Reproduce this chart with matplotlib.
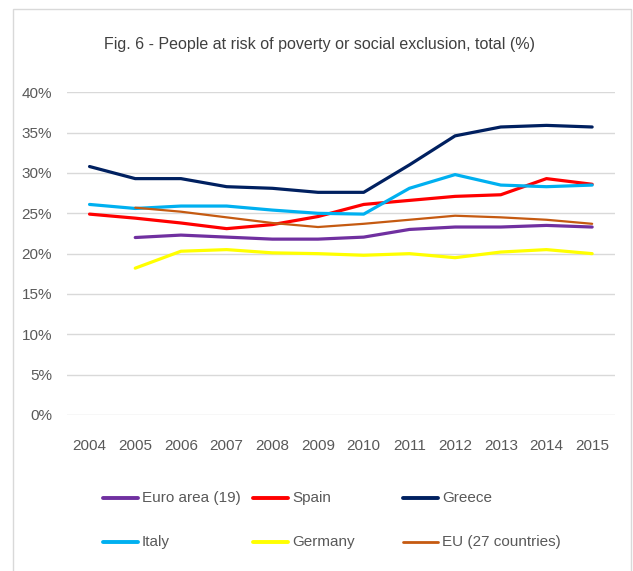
import matplotlib
matplotlib.use("Agg")
import matplotlib.pyplot as plt
from matplotlib.lines import Line2D
from matplotlib.patches import Rectangle
from matplotlib.ticker import FuncFormatter

plt.rcParams['font.family'] = ['Liberation Sans', 'DejaVu Sans']

years = ['2004', '2005', '2006', '2007', '2008', '2009', '2010', '2011', '2012', '2013', '2014', '2015']
nan = float('nan')
euro_area = [nan, 22.0, 22.3, 22.05, 21.8, 21.8, 22.05, 23.0, 23.3, 23.3, 23.5, 23.3]
spain = [24.9, 24.4, 23.8, 23.1, 23.6, 24.6, 26.1, 26.6, 27.1, 27.3, 29.3, 28.6]
greece = [30.8, 29.3, 29.3, 28.3, 28.1, 27.6, 27.6, 31.0, 34.6, 35.7, 35.9, 35.7]
italy = [26.1, 25.6, 25.9, 25.9, 25.4, 25.0, 24.9, 28.1, 29.8, 28.5, 28.3, 28.5]
germany = [nan, 18.2, 20.3, 20.5, 20.1, 20.0, 19.8, 20.0, 19.5, 20.2, 20.5, 20.0]
eu27 = [nan, 25.7, 25.2, 24.5, 23.8, 23.3, 23.7, 24.2, 24.7, 24.5, 24.2, 23.7]

names = ['Euro area (19)', 'Spain', 'Greece', 'Italy', 'Germany', 'EU (27 countries)']
series = [euro_area, spain, greece, italy, germany, eu27]
colors = ['#7030A0', '#FF0000', '#002060', '#00B0F0', '#FFFF00', '#C55A11']
widths = [2.3, 2.3, 2.3, 2.3, 2.3, 1.6]

W, H = 633, 571
fig = plt.figure(figsize=(W / 100, H / 100), dpi=100)
ax = fig.add_axes([66.7 / W, 1 - 415 / H, (615 - 66.7) / W, (415 - 92.3) / H])

x = list(range(len(years)))
for vals, c, lw in zip(series, colors, widths):
    ax.plot(x, [v / 100 for v in vals], color=c, lw=lw, solid_capstyle='round', solid_joinstyle='round', zorder=3)

ax.set_xlim(-0.5, len(years) - 0.5)
ax.set_ylim(0, 0.40)
ax.set_yticks([i * 0.05 for i in range(9)])
ax.yaxis.set_major_formatter(FuncFormatter(lambda v, p: f"{round(v * 100)}%"))
ax.set_xticks(x)
ax.set_xticklabels(years)
ax.grid(axis='y', color='#D9D9D9', lw=1.0, zorder=0)
for s in ax.spines.values():
    s.set_visible(False)
ax.tick_params(axis='both', length=0, labelsize=11, labelcolor='#595959')
ax.tick_params(axis='y', pad=10.5)
ax.tick_params(axis='x', pad=17)

fig.text(319 / W, 1 - 45 / H, 'Fig. 6 - People at risk of poverty or social exclusion, total (%)',
         ha='center', va='center', fontsize=11.5, color='#404040')

# border
fig.patches.append(Rectangle((13 / W, -0.02), (631 - 13) / W, 1 - 9.5 / H + 0.02,
                             transform=fig.transFigure, fill=False, edgecolor='#D9D9D9', lw=1.0))

# legend (manual)
col_x = [103, 253, 403]
row_y = [498, 542]
for i, (name, c, lw) in enumerate(zip(names, colors, widths)):
    r, k = divmod(i, 3)
    x0 = col_x[k]
    y0 = 1 - row_y[r] / H
    fig.add_artist(Line2D([x0 / W, (x0 + 35) / W], [y0, y0], transform=fig.transFigure,
                          color=c, lw=2.8 if lw > 2 else 2.0, solid_capstyle='round'))
    fig.text((x0 + 39) / W, y0, name, ha='left', va='center', fontsize=11, color='#595959')

fig.savefig('out.png', dpi=100)
